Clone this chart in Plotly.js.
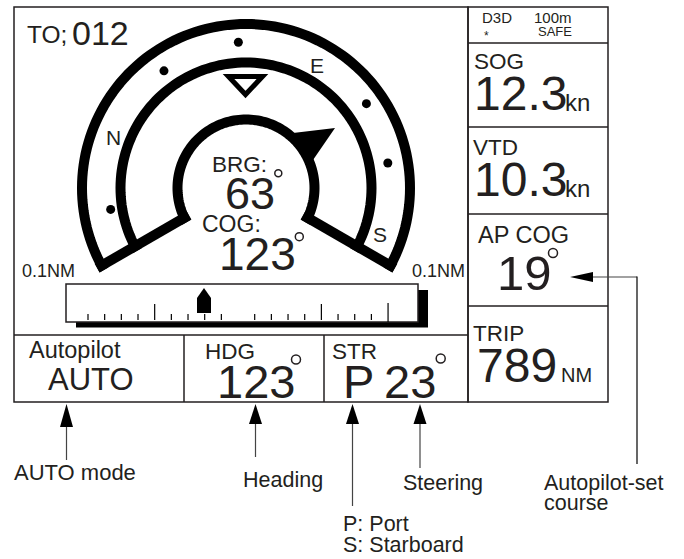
<!DOCTYPE html>
<html><head><meta charset="utf-8">
<script src="https://cdn.plot.ly/plotly-3.0.1.min.js"></script>
<style>html,body{margin:0;padding:0;background:#fff;}#g{width:684px;height:559px;}</style>
</head><body><div id="g"></div>
<script>
// ---- display values ----
const toWaypoint = '012';
const brgValue = '63';
const cogValue = '123';
const rangeLabel = '0.1NM';
const statusTop = ['D3D', '100m'];
const statusBottom = ['*', 'SAFE'];
const panelLabels = ['SOG', 'VTD', 'AP COG', 'TRIP'];
const panelValues = ['12.3', '10.3', '19', '789'];
const panelUnits = ['kn', 'kn', '', 'NM'];
const bottomLabels = ['Autopilot', 'HDG', 'STR'];
const bottomValues = ['AUTO', '123', '23'];
const steerSide = 'P';
const compassLetters = ['N', 'E', 'S'];
const compassLetterAngles = [159, 60, -19];
const compassDotAngles = [93, 125, 189, 35, 10];
const compassDotRadii = [146, 143, 137, 147, 144];
const calloutLines = ['AUTO mode', 'Heading', 'Steering', 'Autopilot-set', 'course', 'P: Port', 'S: Starboard'];

// ---- geometry helpers ----
const FONT = 'Liberation Sans, Arial, Helvetica, sans-serif';
const INK = '#231f20';
const C = {x: 246, y: 188};
function pt(a, r) { const t = a * Math.PI / 180; return [C.x + r * Math.cos(t), C.y - r * Math.sin(t)]; }
function poly(pts, close) { return pts.map((p, i) => (i ? 'L' : 'M') + p[0].toFixed(2) + ',' + p[1].toFixed(2)).join('') + (close ? 'Z' : ''); }
function arc(r, a0, a1) { const pts = []; const n = 120; for (let i = 0; i <= n; i++) pts.push(pt(a0 + (a1 - a0) * i / n, r)); return poly(pts, false); }

const shapes = [];
const ann = [];
function line(x0, y0, x1, y1, w, col) { shapes.push({type: 'line', x0, y0, x1, y1, line: {color: col || INK, width: w}}); }
function fillPath(path, col) { shapes.push({type: 'path', path, fillcolor: col || '#000', line: {width: 0}}); }
function ring(cx, cy, r, w) { shapes.push({type: 'circle', x0: cx - r, x1: cx + r, y0: cy - r, y1: cy + r, line: {color: INK, width: w || 1.5}, fillcolor: 'rgba(0,0,0,0)'}); }
function txt(t, x, y, size, anchor, col) {
  const xa = anchor || 'left';
  let xx = x;
  if (xa === 'left') xx = x - 0.05 * size - 1;
  if (xa === 'right') xx = x + 0.05 * size + 1;
  ann.push({text: t, x: xx, y: y, xref: 'x', yref: 'y', xanchor: xa, yanchor: 'middle', showarrow: false,
    font: {family: FONT, size: size, color: col || INK}});
}

// ---- frames ----
const FW = 1.5;
shapes.push({type: 'rect', x0: 14, y0: 7, x1: 468, y1: 402, line: {color: INK, width: FW}});
shapes.push({type: 'rect', x0: 468, y0: 7, x1: 608, y1: 402, line: {color: INK, width: FW}});
[43, 127, 214, 306].forEach(y => line(468, y, 608, y, FW));
line(14, 335, 468, 335, FW);
line(184, 335, 184, 402, FW);
line(324, 335, 324, 402, FW);

// ---- compass arcs ----
const A0 = -30, A1 = 210;
[164, 125.5, 68.5].forEach(r => shapes.push({type: 'path', path: arc(r, A0, A1), line: {color: '#000', width: 10}, fillcolor: 'rgba(0,0,0,0)'}));
// end caps
(function () {
  const r1 = 63, r2 = 169, w = 10;
  [[A1, -1], [A0, 1]].forEach(([a, s]) => {
    const t = a * Math.PI / 180;
    // inward direction (into the arc span) in screen coords
    const nx = -s * Math.sin(t), ny = -s * Math.cos(t);
    const p1 = pt(a, r1), p2 = pt(a, r2);
    fillPath(poly([p1, p2, [p2[0] + w * nx, p2[1] + w * ny], [p1[0] + w * nx, p1[1] + w * ny]], true));
  });
})();
// hollow triangle at top
shapes.push({type: 'path', path: poly([[228.5, 76.5], [262.5, 76.5], [245.5, 94.5]], true), line: {color: '#000', width: 5}, fillcolor: '#fff'});
// bearing pointer wedge
fillPath(poly([[293, 133], [335, 128], [313, 160]], true));

// compass letters
compassLetters.forEach((l, i) => {
  const p = pt(compassLetterAngles[i], 142);
  ann.push({text: l, x: p[0], y: p[1], xanchor: 'center', yanchor: 'middle', showarrow: false, font: {family: FONT, size: 21, color: INK}});
});

// ---- range bar ----
shapes.push({type: 'rect', x0: 76, y0: 290, x1: 428, y1: 327.5, fillcolor: '#000', line: {width: 0}});
shapes.push({type: 'rect', x0: 66, y0: 284, x1: 418, y1: 322, fillcolor: '#fff', line: {color: INK, width: 1.5}});
for (let i = 0; i < 19; i++) {
  if (i === 9) continue;
  const x = 88 + i * 16.67;
  if (i === 18) line(x, 303, x, 322, 1.2, '#000');
  else if (i === 4 || i === 14) line(x, 304, x, 320, 1.2, '#000');
  else line(x, 314, x, 320, 1.2, '#000');
}
// own ship marker
fillPath(poly([[204, 288], [211, 298], [211, 313], [197, 313], [197, 298]], true));

// ---- callout arrows ----
function upArrow(x, tail, base) {
  line(x, base - 1, x, tail, 1.2, '#444');
  fillPath(poly([[x, 404], [x + 6.5, base], [x - 6.5, base]], true));
}
upArrow(66.5, 460, 427);
upArrow(255.5, 457, 424);
upArrow(352.5, 506, 424);
upArrow(420, 468, 424);
// AP COG arrow
line(592, 277, 637, 277, 1.2, '#444');
line(637, 276.4, 637, 464, 1.2, '#000');
fillPath(poly([[570, 277], [593, 272], [593, 282]], true));

// ---- texts ----
txt('TO;', 27, 34.5, 24.5);
txt(toWaypoint, 73, 33, 34);
txt('BRG:', 212, 164.5, 22.5);
txt(brgValue, 226, 193, 45);
ring(278.3, 173.3, 3.5, 1.5);
txt('COG:', 202, 224, 23);
txt(cogValue, 220, 253.5, 46);
ring(299.3, 236.7, 4, 1.5);
txt(rangeLabel, 22, 270.5, 18);
txt(rangeLabel, 465, 270.5, 18, 'right');

txt(bottomLabels[0], 29, 349.5, 23.5);
txt(bottomValues[0], 49, 379, 31);
txt(bottomLabels[1], 205, 351, 22.5);
txt(bottomValues[1], 218, 381, 47);
ring(296, 359.5, 4.5, 1.5);
txt(bottomLabels[2], 332, 351, 22.5);
txt(steerSide, 344, 381, 47);
txt(bottomValues[2], 385, 381, 47);
ring(440.7, 358.5, 4.5, 1.5);

// right column
txt(statusTop[0], 482, 17, 15);
txt(statusTop[1], 572, 17, 15, 'right');
txt(statusBottom[0], 484, 36, 12);
txt(statusBottom[1], 572, 31.5, 13, 'right');

const panelTop = [43, 127, 214, 306];
txt(panelLabels[0], 474, 61, 22.5);
txt(panelValues[0], 475, 93, 48);
txt(panelUnits[0], 565, 102.4, 24);
txt(panelLabels[1], 473, 147, 22.5);
txt(panelValues[1], 475, 179.5, 48);
txt(panelUnits[1], 565, 188.7, 24);
txt(panelLabels[2], 478, 235, 23.5);
txt(panelValues[2], 498, 272.5, 49);
ring(553, 253, 4.5, 1.5);
txt(panelLabels[3], 473, 333, 22.5);
txt(panelValues[3], 478, 365, 48);
txt(panelUnits[3], 561, 375, 20);

// callout texts
txt(calloutLines[0], 14, 472, 22);
txt(calloutLines[1], 243, 480.3, 21.5);
txt(calloutLines[2], 403, 483.3, 21.5);
txt(calloutLines[3], 544, 483.3, 21.5);
txt(calloutLines[4], 544, 503.3, 21.5);
txt(calloutLines[5], 343, 524.3, 21.5);
txt(calloutLines[6], 343, 545.3, 21.5);

// compass dots as a scatter trace
const dotX = compassDotAngles.map((a, i) => pt(a, compassDotRadii[i])[0]);
const dotY = compassDotAngles.map((a, i) => pt(a, compassDotRadii[i])[1]);

const data = [{type: 'scatter', mode: 'markers', x: dotX, y: dotY, marker: {color: '#000', size: 9}, hoverinfo: 'skip', showlegend: false}];
const layout = {
  width: 684, height: 559, margin: {l: 0, r: 0, t: 0, b: 0, pad: 0},
  paper_bgcolor: '#fff', plot_bgcolor: '#fff', showlegend: false,
  xaxis: {range: [0, 684], visible: false, fixedrange: true},
  yaxis: {range: [559, 0], visible: false, fixedrange: true},
  shapes: shapes, annotations: ann
};
Plotly.newPlot('g', data, layout, {staticPlot: true, displayModeBar: false});
</script></body></html>
